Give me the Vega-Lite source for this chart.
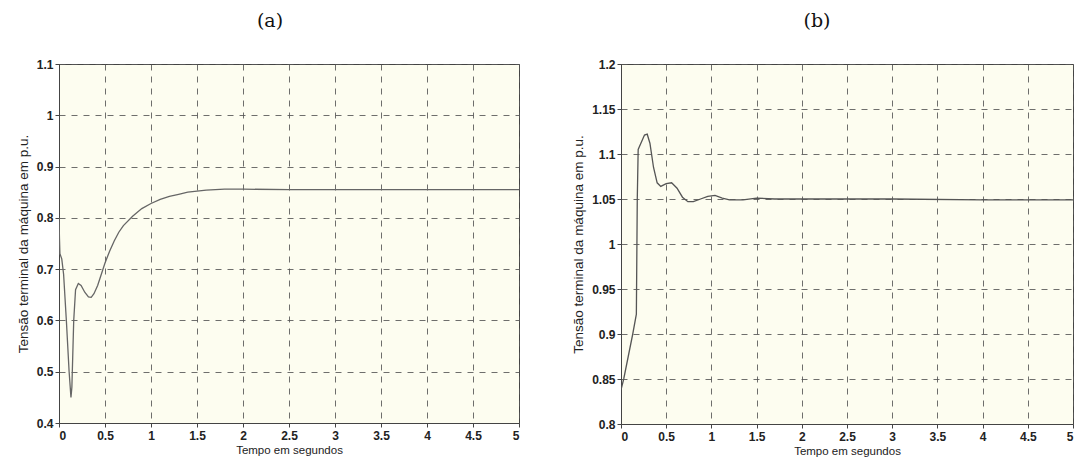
{
  "$schema": "https://vega.github.io/schema/vega-lite/v6.json",
  "background": "#ffffff",
  "padding": {"left": 15, "top": 11, "right": 0, "bottom": 0},
  "spacing": 51,
  "config": {
    "font": "Liberation Sans",
    "view": {"fill": "#fdfdf0", "stroke": "#444444", "strokeWidth": 1},
    "title": {"font": "DejaVu Serif", "fontSize": 19, "fontWeight": "normal", "color": "#111111", "offset": 27},
    "axis": {
      "labelFont": "Liberation Sans", "labelFontSize": 12, "labelColor": "#222222", "labelFontWeight": "bold",
      "titleFont": "Liberation Sans", "titleFontSize": 11.5, "titleColor": "#222222", "titleFontWeight": "normal",
      "domainColor": "#444444", "tickColor": "#444444", "tickSize": 4, "tickOffset": 0, "format": "~g",
      "grid": true, "gridColor": "#555555", "gridDash": [6, 6], "gridWidth": 1, "gridOpacity": 0.85
    }
  },
  "hconcat": [
    {
      "title": {"text": "(a)", "dx": -19},
      "width": 460,
      "height": 359,
      "data": {"values": [
        {"t": 0, "v": 0.80}, {"t": 0.005, "v": 0.76}, {"t": 0.01, "v": 0.73}, {"t": 0.03, "v": 0.72},
        {"t": 0.05, "v": 0.69}, {"t": 0.08, "v": 0.60}, {"t": 0.11, "v": 0.50}, {"t": 0.13, "v": 0.45},
        {"t": 0.14, "v": 0.47}, {"t": 0.16, "v": 0.60}, {"t": 0.18, "v": 0.66}, {"t": 0.21, "v": 0.672},
        {"t": 0.24, "v": 0.668}, {"t": 0.28, "v": 0.655}, {"t": 0.32, "v": 0.646}, {"t": 0.35, "v": 0.645},
        {"t": 0.38, "v": 0.652}, {"t": 0.42, "v": 0.668}, {"t": 0.46, "v": 0.69}, {"t": 0.5, "v": 0.712},
        {"t": 0.55, "v": 0.735}, {"t": 0.6, "v": 0.755}, {"t": 0.65, "v": 0.772}, {"t": 0.7, "v": 0.785},
        {"t": 0.8, "v": 0.803}, {"t": 0.9, "v": 0.818}, {"t": 1.0, "v": 0.828}, {"t": 1.1, "v": 0.836},
        {"t": 1.2, "v": 0.842}, {"t": 1.3, "v": 0.846}, {"t": 1.4, "v": 0.85}, {"t": 1.5, "v": 0.852},
        {"t": 1.6, "v": 0.854}, {"t": 1.8, "v": 0.856}, {"t": 2.0, "v": 0.856}, {"t": 2.5, "v": 0.855},
        {"t": 3, "v": 0.855}, {"t": 4, "v": 0.855}, {"t": 5, "v": 0.855}
      ]},
      "mark": {"type": "line", "color": "#666666", "strokeWidth": 1.3, "clip": true},
      "encoding": {
        "x": {"field": "t", "type": "quantitative", "scale": {"domain": [0, 5], "nice": false},
              "axis": {"values": [0, 0.5, 1, 1.5, 2, 2.5, 3, 3.5, 4, 4.5, 5], "title": "Tempo em segundos", "titlePadding": 3, "labelPadding": 3}},
        "y": {"field": "v", "type": "quantitative", "scale": {"domain": [0.4, 1.1], "nice": false, "zero": false},
              "axis": {"values": [0.4, 0.5, 0.6, 0.7, 0.8, 0.9, 1, 1.1], "title": "Tensão terminal da máquina em p.u.", "titleFontSize": 13.5, "titlePadding": 6, "labelPadding": 2}}
      }
    },
    {
      "title": {"text": "(b)", "dx": -30},
      "width": 452,
      "height": 360,
      "data": {"values": [
        {"t": 0, "v": 0.838}, {"t": 0.03, "v": 0.85}, {"t": 0.08, "v": 0.875}, {"t": 0.13, "v": 0.9},
        {"t": 0.17, "v": 0.922}, {"t": 0.18, "v": 1.05}, {"t": 0.19, "v": 1.105}, {"t": 0.22, "v": 1.112},
        {"t": 0.26, "v": 1.121}, {"t": 0.29, "v": 1.122}, {"t": 0.32, "v": 1.112}, {"t": 0.36, "v": 1.085},
        {"t": 0.4, "v": 1.068}, {"t": 0.44, "v": 1.064}, {"t": 0.5, "v": 1.067}, {"t": 0.56, "v": 1.068},
        {"t": 0.62, "v": 1.062}, {"t": 0.68, "v": 1.052}, {"t": 0.74, "v": 1.047}, {"t": 0.8, "v": 1.047},
        {"t": 0.88, "v": 1.05}, {"t": 0.96, "v": 1.053}, {"t": 1.04, "v": 1.054}, {"t": 1.12, "v": 1.051},
        {"t": 1.2, "v": 1.049}, {"t": 1.35, "v": 1.049}, {"t": 1.5, "v": 1.051}, {"t": 1.7, "v": 1.05},
        {"t": 2.0, "v": 1.05}, {"t": 3, "v": 1.05}, {"t": 4, "v": 1.049}, {"t": 5, "v": 1.049}
      ]},
      "mark": {"type": "line", "color": "#555555", "strokeWidth": 1.3, "clip": true},
      "encoding": {
        "x": {"field": "t", "type": "quantitative", "scale": {"domain": [0, 5], "nice": false},
              "axis": {"values": [0, 0.5, 1, 1.5, 2, 2.5, 3, 3.5, 4, 4.5, 5], "title": "Tempo em segundos", "titlePadding": 3, "labelPadding": 3}},
        "y": {"field": "v", "type": "quantitative", "scale": {"domain": [0.8, 1.2], "nice": false, "zero": false},
              "axis": {"values": [0.8, 0.85, 0.9, 0.95, 1, 1.05, 1.1, 1.15, 1.2], "title": "Tensão terminal da máquina em p.u.", "titleFontSize": 13.5, "titlePadding": 6, "labelPadding": 2}}
      }
    }
  ]
}
